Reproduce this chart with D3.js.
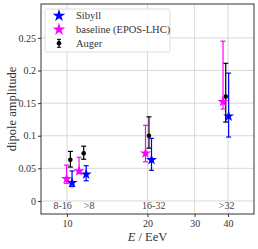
<!DOCTYPE html>
<html>
<head>
<meta charset="utf-8">
<script src="https://cdn.jsdelivr.net/npm/d3@7"></script>
<style>
  body { margin: 0; background: #fff; }
  svg text { font-family: "Liberation Serif", "Times New Roman", serif; }
</style>
</head>
<body>
<svg id="chart" width="258" height="249"></svg>
<script>
'use strict';

const FONT = '"Liberation Serif", "Times New Roman", serif';

// bins
const binLabels = ["8-16", ">8", "16-32", ">32"];
const binLabelE = [9.64, 12.1, 21.1, 39.5];

// Sibyll
const sibyllE = [10.45, 11.8, 20.7, 40.2];
const sibyllAmp = [0.028, 0.041, 0.063, 0.130];
const sibyllLo = [0.022, 0.031, 0.047, 0.098];
const sibyllHi = [0.046, 0.054, 0.096, 0.196];

// baseline (EPOS-LHC)
const eposE = [9.97, 11.1, 19.66, 38.3];
const eposAmp = [0.034, 0.046, 0.073, 0.152];
const eposLo = [0.027, 0.042, 0.060, 0.141];
const eposHi = [0.055, 0.067, 0.116, 0.245];

// Auger
const augerE = [10.3, 11.55, 20.25, 39.2];
const augerAmp = [0.063, 0.073, 0.100, 0.160];
const augerLo = [0.052, 0.064, 0.081, 0.121];
const augerHi = [0.076, 0.084, 0.129, 0.211];

const xTicks = [10, 20, 30, 40];
const yTicks = [0, 0.05, 0.1, 0.15, 0.2, 0.25];

const margin = { left: 41, top: 4, right: 4, bottom: 35 };
const W = 258, H = 249;
const svg = d3.select('#chart');

const x = d3.scaleLog().domain([8, 50]).range([margin.left, W - margin.right]);
const y = d3.scaleLinear().domain([-0.02, 0.302]).range([H - margin.bottom, margin.top]);

// grid
svg.append('g').selectAll('line').data(xTicks).enter().append('line')
  .attr('x1', d => x(d)).attr('x2', d => x(d))
  .attr('y1', margin.top).attr('y2', H - margin.bottom)
  .attr('stroke', '#d9d9d9').attr('stroke-width', 1);
svg.append('g').selectAll('line').data(yTicks).enter().append('line')
  .attr('x1', margin.left).attr('x2', W - margin.right)
  .attr('y1', d => y(d)).attr('y2', d => y(d))
  .attr('stroke', '#d9d9d9').attr('stroke-width', 1);

// axes
const xAxis = d3.axisBottom(x).tickValues(xTicks).tickFormat(d3.format('d')).tickSize(3).tickPadding(3);
const yAxis = d3.axisLeft(y).tickValues(yTicks).tickFormat(d => d === 0 ? '0' : String(d)).tickSize(3).tickPadding(2);

const gx = svg.append('g').attr('transform', `translate(0,${H - margin.bottom})`).call(xAxis);
const gy = svg.append('g').attr('transform', `translate(${margin.left},0)`).call(yAxis);
[gx, gy].forEach(g => {
  g.attr('font-family', FONT);
  g.select('.domain').remove();
  g.selectAll('.tick line').attr('stroke', '#333');
  g.selectAll('.tick text').attr('fill', '#333').style('font-size', '10px')
    .style('font-family', FONT);
});

// frame
svg.append('rect')
  .attr('x', margin.left).attr('y', margin.top)
  .attr('width', W - margin.left - margin.right)
  .attr('height', H - margin.top - margin.bottom)
  .attr('fill', 'none').attr('stroke', '#333').attr('stroke-width', 1);

// bin labels
svg.append('g').selectAll('text').data(binLabels).enter().append('text')
  .attr('x', (d, i) => x(binLabelE[i]))
  .attr('y', y(-0.0065))
  .attr('text-anchor', 'middle').attr('dominant-baseline', 'central')
  .attr('fill', '#444').style('font-size', '10px').style('font-family', FONT)
  .text(d => d);

const star = d3.symbol().type(d3.symbolStar);

const drawSeries = (E, amp, lo, hi, color, marker) => {
  const g = svg.append('g');
  const pts = E.map((e, i) => ({ e, v: amp[i], lo: lo[i], hi: hi[i] }));
  g.selectAll('.bar').data(pts).enter().append('line')
    .attr('x1', d => x(d.e)).attr('x2', d => x(d.e))
    .attr('y1', d => y(d.lo)).attr('y2', d => y(d.hi))
    .attr('stroke', color).attr('stroke-width', 1.2);
  ['lo', 'hi'].forEach(k => {
    g.selectAll('.cap' + k).data(pts).enter().append('line')
      .attr('x1', d => x(d.e) - 2.5).attr('x2', d => x(d.e) + 2.5)
      .attr('y1', d => y(d[k])).attr('y2', d => y(d[k]))
      .attr('stroke', color).attr('stroke-width', 1.2);
  });
  if (marker === 'star') {
    g.selectAll('path').data(pts).enter().append('path')
      .attr('d', star.size(38)())
      .attr('transform', d => `translate(${x(d.e)},${y(d.v)})`)
      .attr('fill', color);
  } else {
    g.selectAll('circle').data(pts).enter().append('circle')
      .attr('cx', d => x(d.e)).attr('cy', d => y(d.v)).attr('r', 2.3)
      .attr('fill', color);
  }
};

drawSeries(augerE, augerAmp, augerLo, augerHi, '#000', 'dot');
drawSeries(eposE, eposAmp, eposLo, eposHi, '#ff00ff', 'star');
drawSeries(sibyllE, sibyllAmp, sibyllLo, sibyllHi, '#0000ff', 'star');

// axis labels
svg.append('text')
  .attr('x', x(20)).attr('y', 241)
  .attr('text-anchor', 'middle').attr('fill', '#333').style('font-size', '12.5px').style('font-family', FONT)
  .html('<tspan font-style="italic">E</tspan> / EeV');
svg.append('text')
  .attr('transform', `translate(16,${(margin.top + H - margin.bottom) / 2}) rotate(-90)`)
  .attr('text-anchor', 'middle').attr('fill', '#333').style('font-size', '12.5px').style('font-family', FONT)
  .text('dipole amplitude');

// legend
const legendItems = [
  { label: 'Sibyll', color: '#0000ff', marker: 'star' },
  { label: 'baseline (EPOS-LHC)', color: '#ff00ff', marker: 'star' },
  { label: 'Auger', color: '#000', marker: 'dot' }
];
const lg = svg.append('g');
lg.append('rect').attr('x', 45).attr('y', 9).attr('width', 125).attr('height', 43)
  .attr('rx', 2).attr('fill', 'rgba(255,255,255,0.85)').attr('stroke', '#ddd');
legendItems.forEach((it, i) => {
  const cy = 15.7 + i * 13.8;
  if (it.marker === 'star') {
    lg.append('path').attr('d', star.size(50)()).attr('transform', `translate(59,${cy})`).attr('fill', it.color);
  } else {
    lg.append('line').attr('x1', 59).attr('x2', 59).attr('y1', cy - 4).attr('y2', cy + 4).attr('stroke', it.color).attr('stroke-width', 1.2);
    lg.append('line').attr('x1', 57).attr('x2', 61).attr('y1', cy - 4).attr('y2', cy - 4).attr('stroke', it.color);
    lg.append('line').attr('x1', 57).attr('x2', 61).attr('y1', cy + 4).attr('y2', cy + 4).attr('stroke', it.color);
    lg.append('circle').attr('cx', 59).attr('cy', cy).attr('r', 2.3).attr('fill', it.color);
  }
  lg.append('text').attr('x', 76).attr('y', cy).attr('dominant-baseline', 'central')
    .attr('fill', '#333').style('font-size', '10.5px').style('font-family', FONT).text(it.label);
});
</script>
</body>
</html>
